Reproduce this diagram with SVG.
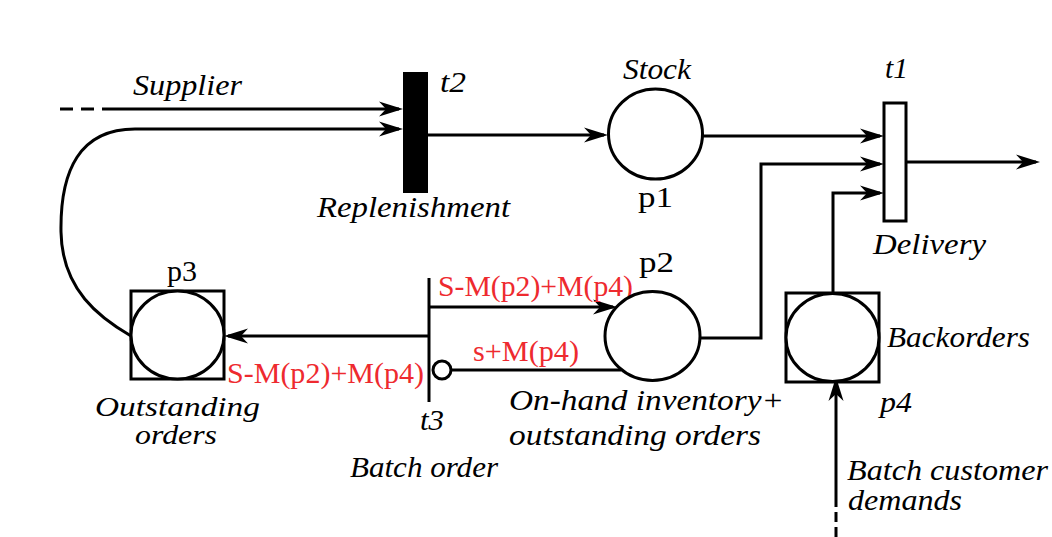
<svg xmlns="http://www.w3.org/2000/svg" width="1052" height="537" viewBox="0 0 1052 537">
<style>
text{font-family:"Liberation Serif","DejaVu Serif",serif;font-size:30px;fill:#000}
.it{font-style:italic}
.sm{font-size:28px}
.rd{fill:#ee2a2f}
.ln{fill:none;stroke:#000;stroke-width:3}
.arr{marker-end:url(#ah)}
.pl{fill:#fff;stroke:#000;stroke-width:3}
.sq{fill:#fff;stroke:#000;stroke-width:3}
</style>
<defs>
<marker id="ah" viewBox="-22 -9 28 18" refX="0" refY="0" markerWidth="28" markerHeight="18" markerUnits="userSpaceOnUse" orient="auto">
<path d="M4,0 L-20,-7.5 L-13,0 L-20,7.5 Z" fill="#000"/>
</marker>
</defs>
<rect width="1052" height="537" fill="#fff"/>

<g id="connectors">
<line class="ln" x1="60" y1="109" x2="102" y2="109" stroke-dasharray="13 8"/>
<line class="ln arr" x1="102" y1="109" x2="399" y2="109"/>
<path class="ln arr" d="M131,336 C100,318 62,290 61,232 C60,170 80,129 135,129 L399,129"/>
<line class="ln arr" x1="428" y1="135" x2="604" y2="135"/>
<line class="ln arr" x1="703" y1="136" x2="880" y2="136"/>
<path class="ln arr" d="M700,338 H761 V164 H880"/>
<path class="ln arr" d="M833,293 V193 H880"/>
<line class="ln arr" x1="906" y1="162" x2="1036" y2="162"/>
<line class="ln arr" x1="429" y1="336" x2="228" y2="336"/>
<line class="ln arr" x1="429" y1="307" x2="613" y2="307"/>
<line class="ln" x1="451" y1="370" x2="621" y2="370"/>
<circle cx="442" cy="370" r="9" fill="#fff" stroke="#000" stroke-width="3"/>
<line class="ln" x1="836" y1="537" x2="836" y2="498" stroke-dasharray="10 5"/>
<line class="ln arr" x1="836" y1="498" x2="836" y2="381"/>
</g>

<g id="t2">
<rect x="403" y="72" width="25" height="121" fill="#000"/>
<text class="it" x="440" y="92" textLength="26" lengthAdjust="spacingAndGlyphs">t2</text>
<text class="it" x="317" y="217" textLength="193" lengthAdjust="spacingAndGlyphs">Replenishment</text>
</g>

<g id="supplier">
<text class="it" x="133" y="95" textLength="109" lengthAdjust="spacingAndGlyphs">Supplier</text>
</g>

<g id="p1">
<ellipse class="pl" cx="655.5" cy="134" rx="47" ry="45"/>
<text class="it" x="623" y="79" textLength="68" lengthAdjust="spacingAndGlyphs">Stock</text>
<text x="638" y="207" textLength="35" lengthAdjust="spacingAndGlyphs">p1</text>
</g>

<g id="t1">
<rect x="884" y="103" width="22" height="118" fill="#fff" stroke="#000" stroke-width="3"/>
<text class="it" x="885" y="78" textLength="23" lengthAdjust="spacingAndGlyphs">t1</text>
<text class="it" x="873" y="254" textLength="113" lengthAdjust="spacingAndGlyphs">Delivery</text>
</g>

<g id="p3">
<rect class="sq" x="131" y="291" width="93" height="88"/>
<ellipse class="pl" cx="177.5" cy="335" rx="46.5" ry="44"/>
<text x="167" y="281" textLength="30" lengthAdjust="spacingAndGlyphs">p3</text>
<text class="it sm" x="95" y="416" textLength="165" lengthAdjust="spacingAndGlyphs">Outstanding</text>
<text class="it sm" x="135" y="444" textLength="82" lengthAdjust="spacingAndGlyphs">orders</text>
</g>

<g id="t3">
<line class="ln" x1="429" y1="278" x2="429" y2="402"/>
<text class="it" x="420" y="430" textLength="24" lengthAdjust="spacingAndGlyphs">t3</text>
<text class="it" x="350" y="477" textLength="148" lengthAdjust="spacingAndGlyphs">Batch order</text>
<text class="rd" x="438" y="296" textLength="195" lengthAdjust="spacingAndGlyphs">S-M(p2)+M(p4)</text>
<text class="rd" x="473" y="361" textLength="106" lengthAdjust="spacingAndGlyphs">s+M(p4)</text>
<text class="rd" x="227" y="383" textLength="197" lengthAdjust="spacingAndGlyphs">S-M(p2)+M(p4)</text>
</g>

<g id="p2">
<ellipse class="pl" cx="652.5" cy="336" rx="47.5" ry="44.5"/>
<text x="639" y="272" textLength="35" lengthAdjust="spacingAndGlyphs">p2</text>
<text class="it" x="509" y="410" textLength="275" lengthAdjust="spacingAndGlyphs">On-hand inventory+</text>
<text class="it" x="509" y="445" textLength="252" lengthAdjust="spacingAndGlyphs">outstanding orders</text>
</g>

<g id="p4">
<rect class="sq" x="786" y="293" width="93" height="89"/>
<ellipse class="pl" cx="832.5" cy="337.5" rx="46.5" ry="44"/>
<text class="it" x="887" y="347" textLength="143" lengthAdjust="spacingAndGlyphs">Backorders</text>
<text class="it" x="880" y="412" textLength="32" lengthAdjust="spacingAndGlyphs">p4</text>
</g>

<g id="demand">
<text class="it" x="847" y="480" textLength="201" lengthAdjust="spacingAndGlyphs">Batch customer</text>
<text class="it" x="848" y="510" textLength="114" lengthAdjust="spacingAndGlyphs">demands</text>
</g>
</svg>
